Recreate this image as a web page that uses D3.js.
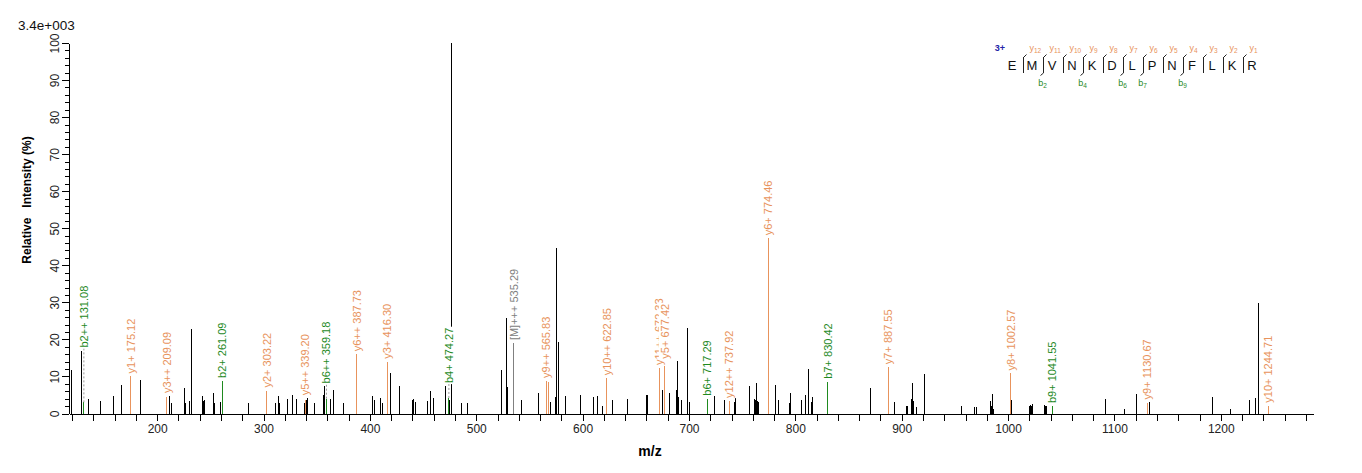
<!DOCTYPE html>
<html>
<head>
<meta charset="utf-8">
<title>spectrum</title>
<style>
	body { margin: 0; background: #fff; }
	svg text { font-family: "Liberation Sans", Arial, sans-serif; }
	.axis path, .axis line { stroke: #000; shape-rendering: crispEdges; }
	.axis text { font-size: 12px; fill: #222; }
	.peak { stroke: #000; stroke-width: 1; shape-rendering: crispEdges; }
</style>
<script src="https://cdn.jsdelivr.net/npm/d3@7/dist/d3.min.js"></script>
</head>
<body>
<svg id="chart" width="1362" height="473"></svg>
<script>
// unassigned peaks (m/z, relative intensity %)
const peakMz = [
	119.6, 129.0, 135.2, 146.9, 159.1, 166.7, 184.1, 211.4, 213.3, 225.5,
	226.5, 230.2, 232.5, 242.4, 243.4, 244.3, 252.8, 253.7, 259.4, 286.1,
	311.5, 313.9, 314.9, 322.7, 327.1, 331.2, 338.1, 340.0, 341.2, 347.8,
	356.2, 357.1, 363.2, 365.6, 375.4, 402.3, 404.2, 409.8, 412.3, 419.6,
	428.0, 440.3, 441.2, 442.7, 454.0, 456.8, 460.0, 470.9, 473.7, 474.7,
	476.3, 486.2, 491.6, 523.4, 528.4, 529.3, 542.3, 558.3, 569.8, 574.3,
	575.9, 577.0, 584.0, 598.0, 610.2, 613.8, 618.7, 628.1, 642.0, 659.9,
	660.8, 675.1, 681.7, 688.3, 689.2, 690.2, 693.0, 698.6, 700.5, 717.6,
	723.8, 733.2, 743.0, 744.0, 757.1, 761.4, 762.3, 763.3, 764.2, 765.1,
	775.0, 781.2, 784.0, 794.1, 795.1, 805.6, 809.4, 812.2, 815.0, 816.0,
	870.5, 893.2, 904.6, 905.4, 909.0, 910.0, 911.0, 913.9, 921.3, 956.1,
	968.3, 969.9, 983.3, 984.2, 985.2, 986.1, 1003.1, 1020.0, 1021.0, 1021.9,
	1022.9, 1034.2, 1035.1, 1036.0, 1091.3, 1109.3, 1120.6, 1133.4, 1192.4, 1209.0,
	1226.8, 1233.1, 1235.0
];
const peakInt = [
	11.7, 17.0, 3.9, 3.4, 4.7, 7.7, 9.0, 4.7, 2.7, 7.0,
	2.7, 3.3, 22.7, 4.7, 3.5, 3.6, 5.4, 2.7, 3.0, 2.7,
	2.7, 4.7, 2.7, 3.9, 4.9, 3.9, 2.9, 3.6, 4.1, 2.7,
	4.9, 7.3, 3.9, 6.4, 2.7, 4.7, 3.6, 4.1, 2.7, 11.0,
	7.3, 3.6, 3.9, 3.1, 3.3, 6.1, 4.1, 7.4, 4.1, 3.6,
	100, 2.8, 2.8, 11.7, 25.8, 7.1, 3.6, 5.5, 3.0, 4.4,
	44.6, 19.3, 4.7, 4.9, 4.5, 4.7, 2.0, 3.6, 3.8, 5.1,
	4.9, 6.3, 5.5, 6.3, 14.2, 4.5, 3.6, 23.0, 3.2, 3.6,
	4.7, 3.6, 3.0, 4.1, 7.4, 3.8, 3.6, 8.2, 3.4, 3.2,
	3.2, 7.7, 3.6, 2.9, 5.4, 3.6, 5.1, 12.0, 3.2, 4.5,
	7.0, 3.0, 1.9, 2.0, 3.8, 8.3, 3.4, 1.8, 10.6, 2.0,
	1.7, 1.7, 3.4, 2.0, 5.2, 1.3, 3.6, 2.0, 2.3, 2.0,
	2.6, 2.3, 2.1, 2.0, 3.8, 1.2, 5.3, 3.0, 4.5, 1.2,
	3.6, 4.3, 29.9
];

// assigned fragment ions
const ionLabel = [
	'b2++ 131.08', 'y1+ 175.12', 'y3++ 209.09', 'b2+ 261.09', 'y2+ 303.22',
	'y5++ 339.20', 'b6++ 359.18', 'y6++ 387.73', 'y3+ 416.30', 'b4+ 474.27',
	'[M]+++ 535.29', 'y9++ 565.83', '', 'y10++ 622.85', 'y11++ 672.33',
	'y5+ 677.42', 'b6+ 717.29', 'y12++ 737.92', 'y6+ 774.46', 'b7+ 830.42',
	'y7+ 887.55', 'y8+ 1002.57', 'b9+ 1041.55', 'y9+ 1130.67', 'y10+ 1244.71'
];
const ionMz = [
	131.08, 175.12, 209.09, 261.09, 303.22,
	339.20, 359.18, 387.73, 416.30, 474.27,
	535.29, 565.83, 567.6, 622.85, 672.33,
	677.42, 717.29, 737.92, 774.46, 830.42,
	887.55, 1002.57, 1041.55, 1130.67, 1244.71
];
const ionInt = [
	3.0, 10.0, 4.5, 8.8, 6.2,
	3.6, 4.0, 16.0, 14.0, 4.2,
	19.0, 8.8, 8.4, 9.5, 12.3,
	14.0, 4.0, 3.4, 47.3, 8.6,
	12.5, 10.8, 2.0, 2.8, 2.1
];
const ionType = [
	'b', 'y', 'y', 'b', 'y',
	'y', 'b', 'y', 'y', 'b',
	'M', 'y', 'y', 'y', 'y',
	'y', 'b', 'y', 'y', 'b',
	'y', 'y', 'b', 'y', 'y'
];

// peptide coverage
const sequence = ['E', 'M', 'V', 'N', 'K', 'D', 'L', 'P', 'N', 'F', 'L', 'K', 'R'];
const charge = '3+';
const bSeen = [2, 4, 6, 7, 9];
const ySeen = [1, 2, 3, 4, 5, 6, 7, 8, 9, 10, 11, 12];

const colors = { y: '#e8935c', b: '#1f8a1f', M: '#808080' };

const svg = d3.select('#chart');
const x = d3.scaleLinear().domain([117.1, 1286.7]).range([69, 1313]);
const y = d3.scaleLinear().domain([0, 100]).range([413.5, 43]);

// axes
svg.append('g')
	.attr('class', 'axis')
	.attr('transform', 'translate(0,413.5)')
	.call(d3.axisBottom(x)
		.tickValues(d3.range(120, 1281, 20))
		.tickSize(7)
		.tickSizeOuter(0)
		.tickPadding(4)
		.tickFormat(d => d % 100 ? '' : d));

svg.append('g')
	.attr('class', 'axis')
	.attr('transform', 'translate(68.5,0)')
	.call(d3.axisLeft(y)
		.tickValues(d3.range(0, 101, 2))
		.tickSize(4)
		.tickSizeOuter(0)
		.tickFormat(''));

const yAxis = svg.append('g')
	.attr('class', 'axis')
	.attr('transform', 'translate(68.5,0)')
	.call(d3.axisLeft(y)
		.tickValues(d3.range(0, 101, 10))
		.tickSize(7)
		.tickSizeOuter(0));
yAxis.selectAll('text')
	.attr('x', 0)
	.attr('dy', 0)
	.attr('text-anchor', 'middle')
	.attr('transform', 'translate(-10,0) rotate(-90)');

// titles
svg.append('text')
	.attr('x', 18).attr('y', 29.5)
	.style('font-size', '13.5px')
	.attr('fill', '#111')
	.text('3.4e+003');

svg.append('text')
	.attr('transform', 'translate(31,200) rotate(-90)')
	.attr('text-anchor', 'middle')
	.style('font-size', '12px')
	.style('font-weight', 'bold')
	.style('white-space', 'pre')
	.text('Relative   Intensity (%)');

svg.append('text')
	.attr('x', 650).attr('y', 456)
	.attr('text-anchor', 'middle')
	.style('font-size', '14px')
	.style('font-weight', 'bold')
	.text('m/z');

// unassigned peaks
svg.append('g').selectAll('line')
	.data(peakMz.map((m, i) => ({ mz: m, v: peakInt[i] })))
	.join('line')
	.attr('class', 'peak')
	.attr('x1', d => x(d.mz)).attr('x2', d => x(d.mz))
	.attr('y1', y(0)).attr('y2', d => y(d.v));

// assigned peaks
const ions = ionMz.map((m, i) => {
	const near = peakMz
		.map((pm, j) => ({ pm, v: peakInt[j] }))
		.filter(p => Math.abs(p.pm - m) <= 3.5 && p.v < 30);
	const base = Math.max(ionInt[i], d3.max(near, p => p.v) || 0);
	return { mz: m, v: ionInt[i], base, type: ionType[i], label: ionLabel[i] };
});

svg.append('g').selectAll('line')
	.data(ions)
	.join('line')
	.attr('class', 'peak')
	.style('stroke', d => colors[d.type])
	.attr('x1', d => x(d.mz)).attr('x2', d => x(d.mz))
	.attr('y1', y(0)).attr('y2', d => y(d.v));

svg.append('g').selectAll('line')
	.data(ions.filter(d => d.label && d.base > d.v + 0.5))
	.join('line')
	.attr('x1', d => x(d.mz)).attr('x2', d => x(d.mz))
	.attr('y1', d => y(d.v)).attr('y2', d => y(d.base) - 3)
	.attr('stroke', '#999')
	.attr('stroke-dasharray', '2,2');

const lab = svg.append('g').selectAll('g')
	.data(ions.filter(d => d.label))
	.join('g')
	.attr('transform', d => `translate(${x(d.mz)},${y(d.base) - 3}) rotate(-90)`);
lab.each(function (d) {
	const g = d3.select(this);
	const rect = g.append('rect').attr('fill', '#fff');
	const t = g.append('text')
		.attr('dy', '0.35em')
		.style('font-size', '11px')
		.attr('fill', colors[d.type])
		.text(d.label);
	const bb = t.node().getBBox();
	rect.attr('x', bb.x - 1).attr('y', bb.y).attr('width', bb.width + 2).attr('height', bb.height);
});

// peptide sequence with fragment marks
const seqX = d3.scalePoint().domain(d3.range(sequence.length)).range([1012, 1252]);
const pep = svg.append('g');

pep.append('text')
	.attr('x', 1000).attr('y', 51)
	.attr('text-anchor', 'middle')
	.style('font-size', '9px')
	.style('font-weight', 'bold')
	.attr('fill', '#2323a8')
	.text(charge);

pep.selectAll('text.res')
	.data(sequence)
	.join('text')
	.attr('class', 'res')
	.attr('x', (d, i) => seqX(i)).attr('y', 70)
	.attr('text-anchor', 'middle')
	.style('font-size', '13px')
	.attr('fill', '#111')
	.text(d => d);

const gaps = d3.range(sequence.length - 1).map(i => ({
	bx: seqX(i) + 11.5,
	b: i + 1,
	y: sequence.length - 1 - i
}));

gaps.forEach(gp => {
	const hasY = ySeen.includes(gp.y);
	const hasB = bSeen.includes(gp.b);
	if (!hasY && !hasB) return;
	let p = `M${gp.bx},57 L${gp.bx},73`;
	if (hasY) p = `M${gp.bx + 3},54.5 L${gp.bx},57.5 ` + p;
	if (hasB) p += ` L${gp.bx - 3},75.5`;
	pep.append('path').attr('d', p).attr('fill', 'none').attr('stroke', '#222').attr('stroke-width', 1);
	if (hasY) {
		const t = pep.append('text')
			.attr('x', gp.bx + 6).attr('y', 51)
			.style('font-size', '9px')
			.attr('fill', colors.y)
			.text('y');
		t.append('tspan').attr('dy', 1.5).style('font-size', '6.5px').text(gp.y);
	}
	if (hasB) {
		const t = pep.append('text')
			.attr('x', gp.bx - 1).attr('y', 86)
			.attr('text-anchor', 'middle')
			.style('font-size', '9px')
			.attr('fill', colors.b)
			.text('b');
		t.append('tspan').attr('dy', 1.5).style('font-size', '6.5px').text(gp.b);
	}
});
</script>
</body>
</html>
